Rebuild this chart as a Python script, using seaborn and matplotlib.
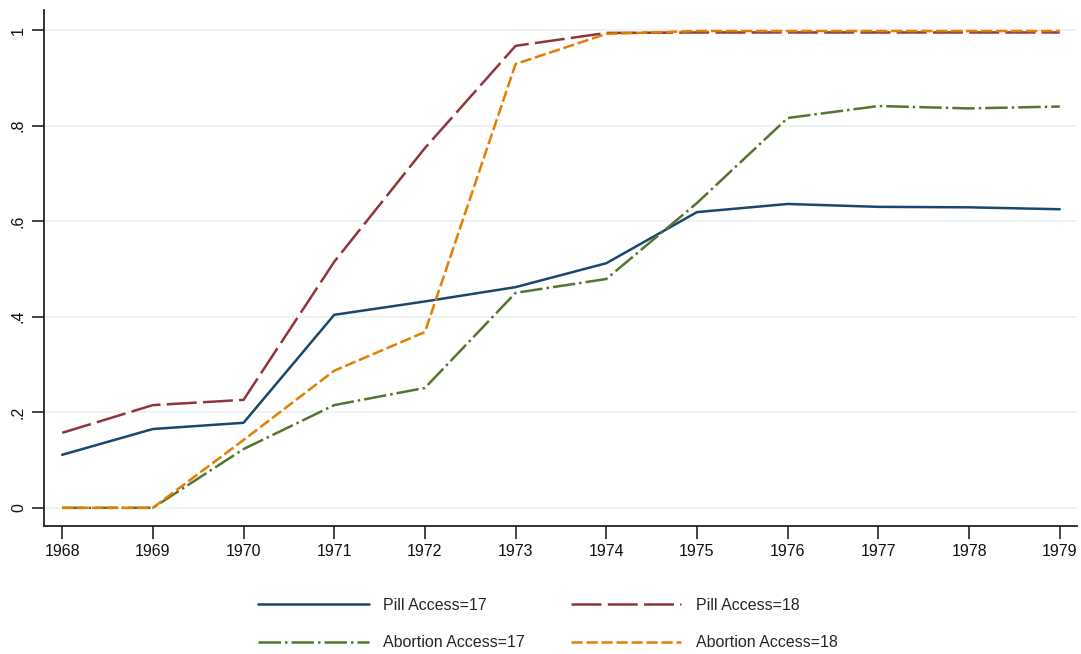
import matplotlib
matplotlib.use("Agg")
import matplotlib.pyplot as plt
import seaborn as sns
import pandas as pd

years = [1968, 1969, 1970, 1971, 1972, 1973, 1974, 1975, 1976, 1977, 1978, 1979]
pill_17 = [0.111, 0.165, 0.178, 0.404, 0.432, 0.462, 0.512, 0.619, 0.636, 0.630, 0.629, 0.625]
pill_18 = [0.157, 0.215, 0.226, 0.515, 0.753, 0.967, 0.994, 0.995, 0.995, 0.995, 0.995, 0.995]
abort_17 = [0.0, 0.0, 0.123, 0.215, 0.251, 0.450, 0.479, 0.638, 0.816, 0.841, 0.836, 0.840]
abort_18 = [0.0, 0.0, 0.142, 0.287, 0.368, 0.929, 0.992, 0.998, 0.998, 0.998, 0.998, 0.998]

labels = ["Pill Access=17", "Pill Access=18", "Abortion Access=17", "Abortion Access=18"]
series = [pill_17, pill_18, abort_17, abort_18]
colors = ["#1a476f", "#90353b", "#55752f", "#e37e00"]
dash_styles = ["", (12, 2.5), (9, 1.6, 1, 1.6), (4.5, 1.5)]

rows = []
for lab, vals in zip(labels, series):
    for yr, v in zip(years, vals):
        rows.append({"year": yr, "value": v, "series": lab})
df = pd.DataFrame(rows)

sns.set_theme(style="white")
plt.rcParams['font.family'] = ['Liberation Sans', 'DejaVu Sans']

fig = plt.figure(figsize=(10.81, 6.54), dpi=100)
ax = fig.add_axes([44/1081, (654-526)/654, (1077-44)/1081, (526-10)/654])

sns.lineplot(data=df, x="year", y="value", hue="series", style="series",
             hue_order=labels, style_order=labels,
             palette=dict(zip(labels, colors)),
             dashes=dict(zip(labels, dash_styles)),
             linewidth=1.8, ax=ax, legend=False)

ax.set_xlim(1967.8, 1979.19)
ax.set_ylim(-0.038, 1.042)
ax.set_xticks(years)
ax.set_xticklabels([str(y) for y in years])
yt = [0, 0.2, 0.4, 0.6, 0.8, 1.0]
ax.set_yticks(yt)
ax.set_yticklabels(["0", ".2", ".4", ".6", ".8", "1"], rotation=90, va="center")
ax.set_xlabel("")
ax.set_ylabel("")
for s in ["top", "right"]:
    ax.spines[s].set_visible(False)
for s in ["left", "bottom"]:
    ax.spines[s].set_color("#222222")
    ax.spines[s].set_linewidth(1.3)
ax.tick_params(axis="both", direction="out", length=9, width=1.2, color="#222222",
               labelsize=11.5, labelcolor="#111111", left=True, bottom=True, pad=4)
ax.yaxis.grid(True, color="#e8f0f2", linewidth=1.1)
ax.xaxis.grid(False)
ax.set_axisbelow(True)

lines = ax.get_lines()[:4]
order = [0, 2, 1, 3]
fig.legend([lines[i] for i in order], [labels[i] for i in order], loc="center",
           bbox_to_anchor=(548/1081, 1 - 624/654),
           ncol=2, frameon=False, fontsize=11.5, handlelength=6.9,
           handletextpad=0.9, columnspacing=2.9, labelspacing=1.4)

fig.savefig("out.png", dpi=100, facecolor="white")
